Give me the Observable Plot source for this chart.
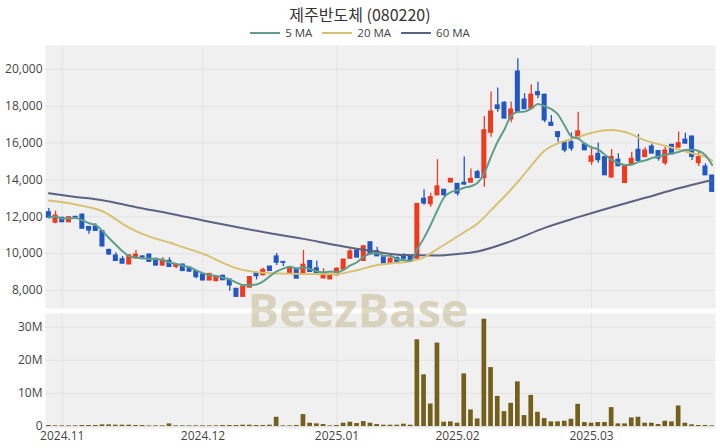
<!DOCTYPE html>
<html>
<head>
<meta charset="utf-8">
<script src="https://cdn.jsdelivr.net/npm/d3@7"></script>
<script src="https://cdn.jsdelivr.net/npm/@observablehq/plot@0.6"></script>
<style>
  html, body { margin: 0; padding: 0; background: #fff; }
  #wrap { position: relative; width: 720px; height: 448px; overflow: hidden; font-family: "Open Sans", "Noto Sans CJK KR", sans-serif; }
  #title { position: absolute; top: 3px; left: 0; width: 720px; text-align: center; font-family: "Noto Sans CJK KR", "Open Sans", sans-serif; font-size: 16px; color: #333; line-height: 22px; }
  #legend { position: absolute; top: 24px; left: 0; width: 720px; display: flex; justify-content: center; gap: 10px; font-size: 11.5px; color: #444; line-height: 17px; }
  #legend .item { display: flex; align-items: center; gap: 5px; }
  #price { position: absolute; top: 40px; left: 0; }
  #vol { position: absolute; top: 308px; left: 0; }
  #wm { position: absolute; top: 0; left: 0; pointer-events: none; }
</style>
</head>
<body>
<div id="wrap">
  <div id="title">제주반도체 (080220)</div>
  <div id="legend"></div>
  <div id="price"></div>
  <div id="vol"></div>
  <svg id="wm" width="720" height="448"><text x="358" y="327" text-anchor="middle" font-family="Open Sans, sans-serif" font-weight="700" font-size="47" fill="#c9bf9a" fill-opacity="0.6">BeezBase</text></svg>
</div>
<script>
// Trading dates
const dates = [
  "2024-10-30","2024-10-31",
  "2024-11-01","2024-11-04","2024-11-05","2024-11-06","2024-11-07","2024-11-08","2024-11-11","2024-11-12","2024-11-13","2024-11-14","2024-11-15","2024-11-18","2024-11-19","2024-11-20","2024-11-21","2024-11-22","2024-11-25","2024-11-26","2024-11-27","2024-11-28","2024-11-29",
  "2024-12-02","2024-12-03","2024-12-04","2024-12-05","2024-12-06","2024-12-09","2024-12-10","2024-12-11","2024-12-12","2024-12-13","2024-12-16","2024-12-17","2024-12-18","2024-12-19","2024-12-20","2024-12-23","2024-12-24","2024-12-26","2024-12-27","2024-12-30",
  "2025-01-02","2025-01-03","2025-01-06","2025-01-07","2025-01-08","2025-01-09","2025-01-10","2025-01-13","2025-01-14","2025-01-15","2025-01-16","2025-01-17","2025-01-20","2025-01-21","2025-01-22","2025-01-23","2025-01-24","2025-01-31",
  "2025-02-03","2025-02-04","2025-02-05","2025-02-06","2025-02-07","2025-02-10","2025-02-11","2025-02-12","2025-02-13","2025-02-14","2025-02-17","2025-02-18","2025-02-19","2025-02-20","2025-02-21","2025-02-24","2025-02-25","2025-02-26","2025-02-27","2025-02-28",
  "2025-03-04","2025-03-05","2025-03-06","2025-03-07","2025-03-10","2025-03-11","2025-03-12","2025-03-13","2025-03-14","2025-03-17","2025-03-18","2025-03-19","2025-03-20","2025-03-21","2025-03-24","2025-03-25","2025-03-26","2025-03-27","2025-03-28"
];
const open = [12250,11680,11950,11700,12000,12120,11450,11480,11220,10200,9900,9700,9410,9800,9850,9950,9720,9350,9610,9280,
  9410,9200,9050,8870,8540,8500,8800,8590,8090,7650,8150,8940,8820,9300,9850,9550,8950,9180,8870,9600,
  9200,8650,8600,8820,9130,9720,10170,9600,10620,10130,9800,9490,9770,9880,9850,9720,12980,12680,13160,13470,
  13860,13790,13850,13850,14430,14100,16560,18050,18190,17290,19890,18370,17870,18770,18630,17110,16600,16050,16050,16270,
  15930,14980,15420,15240,14130,15100,13830,14840,15640,15240,15820,15570,14910,15910,15750,16190,16360,14910,14730,14240];
const high = [12450,12310,11960,12000,12020,12150,11460,11620,11250,10250,10050,9850,9950,10170,9870,9980,9750,9780,9780,9400,
  9420,9220,9060,8880,8920,8780,8820,8600,8100,8230,8750,8950,9200,9320,10000,9560,9280,9200,10170,9620,
  9600,9180,8920,9230,9700,10220,10180,10420,10630,10350,9820,9850,9800,9990,9870,12720,13470,13280,15100,13480,
  14080,13800,15240,14600,14520,17450,18770,18990,18250,18230,20580,18680,19170,19310,18650,17500,16610,16060,16560,17680,
  16000,15820,16000,15260,15650,15420,14760,15510,16470,15750,15950,15600,15780,15920,16600,16540,16370,15510,14880,14250];
const low = [11900,11620,11700,11680,11940,11350,11050,11220,10350,9900,9580,9450,9400,9680,9760,9520,9320,9320,9250,9180,
  9030,8980,8630,8530,8530,8490,8540,7960,7640,7640,8150,8570,8800,9040,9360,9300,8940,8630,8860,8980,
  8940,8630,8580,8800,9120,9700,9770,9580,9950,9840,9450,9480,9480,9700,9620,9700,12620,12520,13150,13100,
  13830,13120,13700,13830,14080,13610,16320,17680,17320,17100,17680,17820,17860,18410,17100,16920,16050,15480,15550,16250,
  15590,14790,14910,14240,14110,14720,13820,14830,15020,15230,15420,15020,14790,15380,15740,15950,15060,14730,14230,13340];
const close = [11950,12070,11700,11980,11950,11350,11250,11230,10390,9950,9600,9450,9900,9950,9780,9550,9350,9660,9270,9380,
  9050,9020,8720,8540,8900,8760,8550,8270,7650,8220,8730,8770,9120,9050,9500,9500,9250,8640,9400,9000,
  8950,8900,8900,9180,9680,10120,9780,10400,9960,9850,9460,9720,9490,9720,9640,12700,12720,13070,13650,13170,
  14060,13260,13750,14060,14100,16700,17720,17850,17330,17830,17700,17840,18630,18600,17230,16930,16330,15600,15700,16640,
  15610,15280,15070,14250,15250,14740,14740,15150,15030,15600,15430,15160,15600,15390,16000,15970,15250,15240,14250,13350];
// Volume (millions of shares)
const volumeM = [0.3,0.2,0.2,0.2,0.2,0.3,0.3,0.3,0.5,0.5,0.4,0.4,0.4,0.3,0.3,0.2,0.2,0.2,0.8,0.2,
  0.2,0.2,0.2,0.2,0.2,0.2,0.3,0.3,0.3,0.4,0.4,0.3,0.3,0.4,2.8,0.2,0.2,0.3,3.6,1.0,
  0.8,0.6,0.2,0.3,1.0,1.3,0.9,1.5,1.0,0.6,0.4,0.4,0.4,0.7,0.4,26.2,15.6,6.8,25.2,1.3,
  1.4,1.0,15.9,5.0,2.3,32.4,17.8,9.1,4.5,7.0,13.5,3.3,9.4,4.3,2.4,1.4,1.4,1.6,2.2,6.7,
  1.2,1.0,1.2,1.2,5.7,0.8,0.8,2.6,2.8,1.0,1.0,0.6,1.6,1.4,6.2,1.0,0.5,0.3,0.3,0.2];
// Moving averages (index into dates, value)
const ma20Idx = [0,4,8,12,15,18,20,23,26,28,30,33,38,43,46,49,52,54,56,58,60,62,64,66,68,70,72,74,76,78,80,82,84,86,89,92,96,98,99];
const ma20Val = [12880,12670,12300,11400,10920,10600,10350,10000,9500,9200,9050,8940,8900,8900,9100,9380,9500,9580,9800,10250,10700,11170,11640,12360,13100,13900,14780,15600,15990,16220,16450,16650,16710,16600,16150,15850,15450,15250,15050];
const ma60Idx = [0,4,8,13,18,23,28,33,38,43,48,53,58,61,64,69,74,79,84,89,94,99];
const ma60Val = [13280,13080,12900,12520,12180,11800,11440,11110,10800,10450,10150,9920,9900,9980,10120,10680,11400,11980,12520,13030,13550,14000];

const priceTicks = [8000,10000,12000,14000,16000,18000,20000];
const volTicks = [0,10,20,30];
const monthTicks = ["2024-11-01","2024-12-02","2025-01-02","2025-02-03","2025-03-04"];
const monthLabels = ["2024.11","2024.12","2025.01","2025.02","2025.03"];

const UP = "#ec3b1e", DOWN = "#2258c4";
const C5 = "#5f9e8c", C20 = "#d8c272", C60 = "#5b6380";
const VOLC = "#74601d", BG = "#f0f0f0", GRID = "#e3e3e3";

const rows = dates.map((d, i) => ({date: d, open: open[i], high: high[i], low: low[i], close: close[i], vol: volumeM[i]}));
const ma20 = ma20Idx.map((k, j) => ({date: dates[k], v: ma20Val[j]}));
const ma60 = ma60Idx.map((k, j) => ({date: dates[k], v: ma60Val[j]}));
const col = d => d.close >= d.open ? UP : DOWN;
const labelOf = d => monthLabels[monthTicks.indexOf(d)];

// legend
const legend = document.getElementById("legend");
[["5 MA", C5], ["20 MA", C20], ["60 MA", C60]].forEach(([t, c]) => {
  const it = document.createElement("div");
  it.className = "item";
  it.innerHTML = `<svg width="30" height="6"><line x1="0" y1="3" x2="30" y2="3" stroke="${c}" stroke-width="2"/></svg><span>${t}</span>`;
  legend.appendChild(it);
});

const common = {
  width: 720, marginLeft: 45, marginRight: 5,
  style: {fontFamily: "Open Sans, sans-serif", fontSize: "12px", color: "#444", background: "transparent"}
};

const price = Plot.plot({
  ...common,
  height: 270, marginTop: 5, marginBottom: 2,
  x: {type: "band", domain: dates, paddingInner: 0.25, paddingOuter: 0.125, axis: null},
  y: {domain: [7020, 21300], ticks: priceTicks, tickFormat: d3.format(","), tickSize: 0, tickPadding: 3, label: null},
  marks: [
    Plot.frame({fill: BG, stroke: null}),
    Plot.ruleY(priceTicks, {stroke: GRID}),
    Plot.ruleX(monthTicks, {stroke: GRID}),
    Plot.ruleX(rows, {x: "date", y1: "low", y2: "high", stroke: col, strokeWidth: 1.3}),
    Plot.barY(rows, {x: "date", y1: "open", y2: "close", fill: col, insetTop: -0.5, insetBottom: -0.5}),
    Plot.line(ma60, {x: "date", y: "v", stroke: C60, strokeWidth: 2, curve: "monotone-x"}),
    Plot.line(ma20, {x: "date", y: "v", stroke: C20, strokeWidth: 2, curve: "monotone-x"}),
    Plot.line(rows, Plot.windowY({k: 5, anchor: "end", reduce: "mean"}, {x: "date", y: "close", stroke: C5, strokeWidth: 2, curve: "monotone-x"}))
  ]
});
document.getElementById("price").appendChild(price);

const vol = Plot.plot({
  ...common,
  height: 140, marginTop: 5, marginBottom: 20,
  x: {type: "band", domain: dates, paddingInner: 0.3, paddingOuter: 0.15, ticks: monthTicks, tickFormat: labelOf, tickSize: 0, tickPadding: 3, label: null},
  y: {domain: [-0.6, 34.14], ticks: volTicks, tickFormat: d => d === 0 ? "0" : d + "M", tickSize: 0, tickPadding: 3, label: null},
  marks: [
    Plot.frame({fill: BG, stroke: null}),
    Plot.ruleY(volTicks, {stroke: GRID}),
    Plot.ruleX(monthTicks, {stroke: GRID}),
    Plot.barY(rows, {x: "date", y1: 0, y2: "vol", fill: VOLC})
  ]
});
document.getElementById("vol").appendChild(vol);
</script>
</body>
</html>
